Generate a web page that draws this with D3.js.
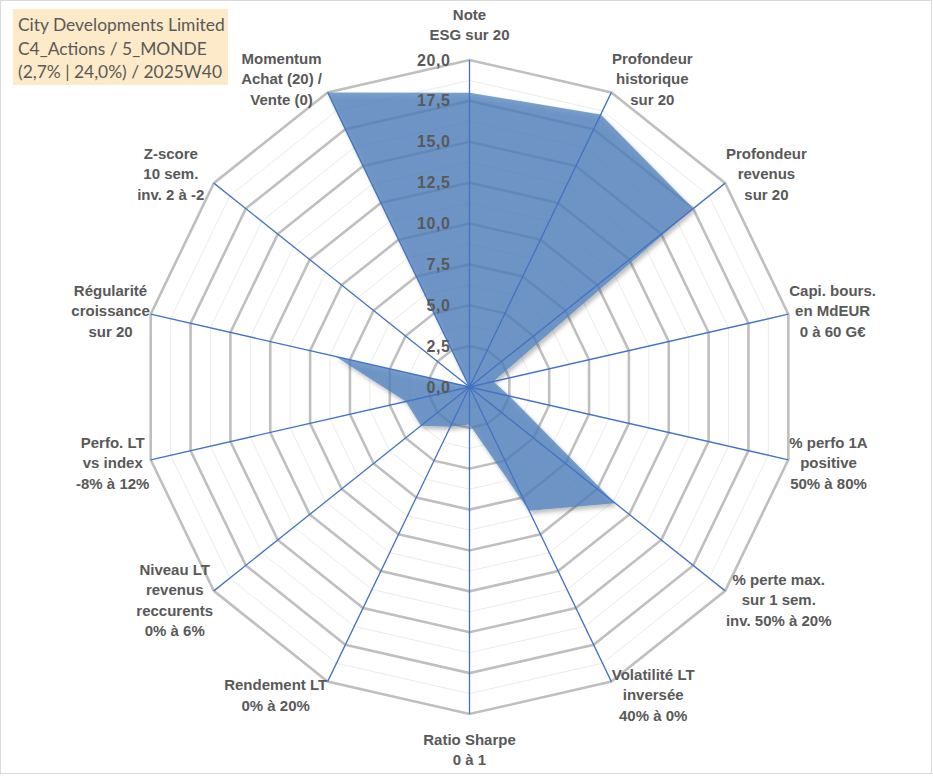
<!DOCTYPE html>
<html>
<head>
<meta charset="utf-8">
<script src="https://cdn.jsdelivr.net/npm/d3@7"></script>
<style>
  body { margin: 0; background: #fff; }
  .cat-label { font-family: "Liberation Sans", Arial, sans-serif; font-weight: bold; font-size: 15px; fill: #595959; }
  .tick-label { font-family: "Liberation Sans", Arial, sans-serif; font-weight: bold; font-size: 16px; fill: #595959; letter-spacing: 0.6px; }
  .title-text { font-family: Lato, "Open Sans", sans-serif; font-size: 17.4px; fill: #595959; }
</style>
</head>
<body>
<script>
  // axis names, clockwise from the top
  var axisLabels = [
    ["Note", "ESG sur 20"],
    ["Profondeur", "historique", "sur 20"],
    ["Profondeur", "revenus", "sur 20"],
    ["Capi. bours.", "en MdEUR", "0 à 60 G€"],
    ["% perfo 1A", "positive", "50% à 80%"],
    ["% perte max.", "sur 1 sem.", "inv. 50% à 20%"],
    ["Volatilité LT", "inversée", "40% à 0%"],
    ["Ratio Sharpe", "0 à 1"],
    ["Rendement LT", "0% à 20%"],
    ["Niveau LT", "revenus", "reccurents", "0% à 6%"],
    ["Perfo. LT", "vs index", "-8% à 12%"],
    ["Régularité", "croissance", "sur 20"],
    ["Z-score", "10 sem.", "inv. 2 à -2"],
    ["Momentum", "Achat (20) /", "Vente (0)"]
  ];
  var scores = [18, 18.5, 17.5, 1.5, 2.5, 11.4, 8.4, 2.3, 2.7, 3.8, 4.0, 8.4, 0, 20];
  var majorTicks = [0, 2.5, 5, 7.5, 10, 12.5, 15, 17.5, 20];
  var minorTicks = [1.25, 3.75, 6.25, 8.75, 11.25, 13.75, 16.25, 18.75];
  var titleLines = ["City Developments Limited", "C4_Actions / 5_MONDE", "(2,7% | 24,0%) / 2025W40"];

  var width = 933, height = 776;
  var cx = 469.5, cy = 387, R = 327;

  var svg = d3.select("body").append("svg")
    .attr("width", width).attr("height", height);

  // chart frame
  svg.append("rect")
    .attr("x", 0.5).attr("y", 0.5).attr("width", 931).attr("height", 773)
    .attr("fill", "#fff").attr("stroke", "#d9d9d9");

  var defs = svg.append("defs");
  var f = defs.append("filter").attr("id", "shadow")
    .attr("x", "-10%").attr("y", "-10%").attr("width", "130%").attr("height", "130%");
  f.append("feDropShadow").attr("dx", 2).attr("dy", 3).attr("stdDeviation", 2)
    .attr("flood-color", "#000").attr("flood-opacity", 0.35);

  var n = axisLabels.length;
  var angle = d3.scaleLinear().domain([0, n]).range([0, 2 * Math.PI]);
  var r = d3.scaleLinear().domain([0, 20]).range([0, R]);

  var g = svg.append("g").attr("transform", "translate(" + cx + "," + cy + ")");

  var ring = function(v) {
    return d3.lineRadial()
      .angle(function(d, i) { return angle(i); })
      .radius(function() { return r(v); })
      .curve(d3.curveLinearClosed)(d3.range(n));
  };

  // minor rings
  g.selectAll(".minor").data(minorTicks).enter().append("path")
    .attr("d", ring).attr("fill", "none")
    .attr("stroke", "#ececec").attr("stroke-width", 1);

  // major rings
  g.selectAll(".major").data(majorTicks.filter(function(d) { return d > 0; })).enter().append("path")
    .attr("d", ring).attr("fill", "none")
    .attr("stroke", "#bfbfbf").attr("stroke-width", 2.6);

  // series polygon
  var area = d3.lineRadial()
    .angle(function(d, i) { return angle(i); })
    .radius(function(d) { return r(d); })
    .curve(d3.curveLinearClosed);

  g.append("path")
    .attr("d", area(scores))
    .attr("fill", "#4f81bd").attr("fill-opacity", 0.75)
    .attr("filter", "url(#shadow)");

  // spokes
  g.selectAll(".spoke").data(d3.range(n)).enter().append("line")
    .attr("x1", 0).attr("y1", 0)
    .attr("x2", function(i) { return r(20) * Math.sin(angle(i)); })
    .attr("y2", function(i) { return -r(20) * Math.cos(angle(i)); })
    .attr("stroke", "#4472c4").attr("stroke-width", 1.3);

  // value axis labels
  var fr = d3.formatLocale({ decimal: ",", thousands: " ", grouping: [3], currency: ["", "€"] });
  var fmt = fr.format(".1f");
  g.selectAll(".tick-label").data(majorTicks).enter().append("text")
    .attr("class", "tick-label")
    .attr("x", -19)
    .attr("y", function(d) { return -r(d); })
    .attr("dy", "0.35em")
    .attr("text-anchor", "end")
    .text(fmt);

  // category labels
  var lineH = 20.5;
  axisLabels.forEach(function(lines, i) {
    var a = angle(i), s = Math.sin(a), c = Math.cos(a);
    // excel leaves a bit more room on the upper left labels
    var gap = (s < -0.1 && c > 0.5) ? 12 : 1;
    var x = (R + gap) * s;
    var yc = -(R + 15) * c;
    var anchor = "middle";
    if (Math.abs(s) < 0.1) {
      yc += c > 0 ? -lines.length * lineH / 2 : lines.length * lineH / 2;
    } else {
      anchor = s > 0 ? "start" : "end";
    }
    var t = g.append("text").attr("class", "cat-label").attr("text-anchor", anchor);
    var top = yc - (lines.length - 1) * lineH / 2;
    lines.forEach(function(l, k) {
      t.append("tspan").attr("x", x).attr("y", top + k * lineH).attr("dy", "0.35em").text(l);
    });
    // centre the lines within the block like Excel does
    if (anchor !== "middle") {
      var w = t.node().getBBox().width;
      t.attr("text-anchor", "middle");
      t.selectAll("tspan").attr("x", s > 0 ? x + w / 2 : x - w / 2);
    }
  });

  // title box
  svg.append("rect")
    .attr("x", 13).attr("y", 9).attr("width", 215).attr("height", 76)
    .attr("fill", "#fdeac8");
  svg.append("text").attr("class", "title-text")
    .selectAll("tspan").data(titleLines).enter().append("tspan")
    .attr("x", 18).attr("y", function(d, i) { return 25 + i * 23.5; })
    .attr("dy", "0.35em")
    .text(function(d) { return d; });
</script>
</body>
</html>
